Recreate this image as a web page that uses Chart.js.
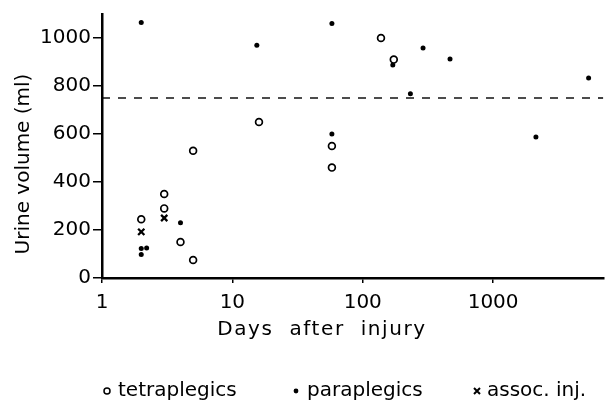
<!DOCTYPE html>
<html>
<head>
<meta charset="utf-8">
<script src="https://cdn.jsdelivr.net/npm/chart.js@4.4.0/dist/chart.umd.min.js"></script>
<style>
  html, body { margin: 0; padding: 0; background: #fff; }
  #wrap { width: 610px; height: 405px; }
</style>
</head>
<body>
<div id="wrap"><canvas id="urineChart" width="610" height="405"></canvas></div>
<script>
// values (days after injury vs urine volume in ml)
const tetraDays = [2, 3, 3, 4, 5, 5, 16, 58, 58, 138, 173];
const tetraVolume = [245, 350, 290, 150, 530, 75, 650, 550, 460, 1000, 910];

const paraDays = [2, 2, 2.2, 2, 4, 15.4, 58, 58, 170, 232, 290, 467, 2130, 5400];
const paraVolume = [1065, 123, 125, 98, 230, 970, 1060, 600, 887, 768, 958, 913, 587, 833];

const assocDays = [2, 3];
const assocVolume = [192, 250];

const normalLimit = 750;
const xTicks = [1, 10, 100, 1000];
const yTicks = [0, 200, 400, 600, 800, 1000];

const seriesLabels = ["tetraplegics", "paraplegics", "assoc. inj."];
const xTitle = "Days  after  injury";
const yTitle = "Urine volume (ml)";

const font = "DejaVu Sans";

function toPoints(xs, ys) {
  return xs.map((x, i) => ({ x: x, y: ys[i] }));
}

// axis titles and legend are drawn by hand so they sit where the figure has them
const extrasPlugin = {
  id: "extras",
  afterDraw(chart) {
    const ctx = chart.ctx;
    ctx.save();
    ctx.fillStyle = "#000";
    ctx.strokeStyle = "#000";
    ctx.font = "20px '" + font + "'";
    ctx.textBaseline = "middle";

    // y title
    ctx.save();
    ctx.translate(24, 164);
    ctx.rotate(-Math.PI / 2);
    ctx.textAlign = "center";
    ctx.fillText(yTitle, 0, 0);
    ctx.restore();

    // x title
    ctx.textAlign = "center";
    ctx.letterSpacing = "1.6px";
    ctx.fillText(xTitle, 322, 330);

    // legend
    ctx.textAlign = "left";
    ctx.letterSpacing = "0px";
    const ly = 391;
    const items = [
      { mx: 107, tx: 118 },
      { mx: 296, tx: 307 },
      { mx: 477, tx: 487 }
    ];
    // open circle
    ctx.lineWidth = 1.5;
    ctx.beginPath();
    ctx.arc(items[0].mx, ly, 3, 0, Math.PI * 2);
    ctx.stroke();
    // dot
    ctx.beginPath();
    ctx.arc(items[1].mx, ly, 2.4, 0, Math.PI * 2);
    ctx.fill();
    // cross
    ctx.lineWidth = 2;
    ctx.beginPath();
    ctx.moveTo(items[2].mx - 3, ly - 3);
    ctx.lineTo(items[2].mx + 3, ly + 3);
    ctx.moveTo(items[2].mx + 3, ly - 3);
    ctx.lineTo(items[2].mx - 3, ly + 3);
    ctx.stroke();

    items.forEach((it, i) => ctx.fillText(seriesLabels[i], it.tx, ly));
    ctx.restore();
  }
};

const data = {
  datasets: [
    {
      label: seriesLabels[0],
      data: toPoints(tetraDays, tetraVolume),
      pointStyle: "circle",
      pointRadius: 3.4,
      pointBackgroundColor: "#fff",
      pointBorderColor: "#000",
      pointBorderWidth: 1.7,
      order: 1
    },
    {
      label: seriesLabels[1],
      data: toPoints(paraDays, paraVolume),
      pointStyle: "circle",
      pointRadius: 2.5,
      pointBackgroundColor: "#000",
      pointBorderColor: "#000",
      pointBorderWidth: 0,
      order: 1
    },
    {
      label: seriesLabels[2],
      data: toPoints(assocDays, assocVolume),
      pointStyle: "crossRot",
      pointRadius: 4.4,
      pointBorderColor: "#000",
      pointBorderWidth: 2.3,
      order: 1
    },
    {
      label: "normal",
      type: "line",
      data: [{ x: 1, y: normalLimit }, { x: 7000, y: normalLimit }],
      borderColor: "#000",
      borderWidth: 1.4,
      borderDash: [8, 8],
      pointRadius: 0,
      order: 2
    }
  ]
};

const config = {
  type: "scatter",
  data,
  options: {
    responsive: false,
    animation: false,
    events: [],
    layout: { padding: { top: 12, right: 1, left: 0, bottom: 0 } },
    plugins: {
      legend: { display: false },
      tooltip: { enabled: false }
    },
    scales: {
      x: {
        type: "logarithmic",
        min: 1,
        max: 7000,
        afterBuildTicks: (scale) => {
          scale.ticks = xTicks.map((v) => ({ value: v }));
        },
        afterFit: (scale) => { scale.height = 127; },
        ticks: {
          autoSkip: false,
          maxRotation: 0,
          color: "#000",
          padding: 8,
          font: { family: font, size: 20 },
          callback: (v) => String(v)
        },
        grid: {
          drawOnChartArea: false,
          drawTicks: true,
          tickLength: 5,
          color: "#000",
          lineWidth: 1.5
        },
        border: { display: true, color: "#000", width: 2.5 }
      },
      y: {
        type: "linear",
        min: 0,
        max: 1100,
        afterBuildTicks: (scale) => {
          scale.ticks = yTicks.map((v) => ({ value: v }));
        },
        afterFit: (scale) => { scale.width = 102; },
        ticks: {
          color: "#000",
          padding: 2,
          font: { family: font, size: 20 },
          callback: (v) => String(v)
        },
        grid: {
          drawOnChartArea: false,
          drawTicks: true,
          tickLength: 9,
          color: "#000",
          lineWidth: 1.5
        },
        border: { display: true, color: "#000", width: 2.5 }
      }
    }
  },
  plugins: [extrasPlugin]
};

const myChart = new Chart(document.getElementById("urineChart"), config);
</script>
</body>
</html>
